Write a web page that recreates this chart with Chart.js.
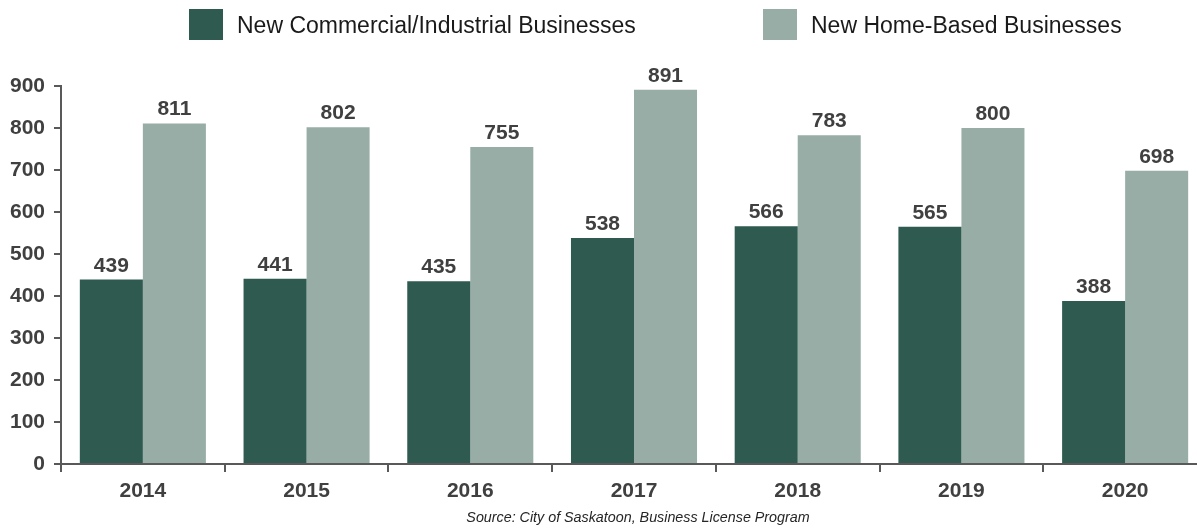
<!DOCTYPE html>
<html>
<head>
<meta charset="utf-8">
<script src="https://cdn.jsdelivr.net/npm/chart.js@4/dist/chart.umd.min.js"></script>
<style>
  html, body { margin: 0; padding: 0; overflow: hidden; background: #ffffff; }
  #wrap { width: 1207px; height: 531px; }
</style>
</head>
<body>
<div id="wrap"><canvas id="c" width="1207" height="531"></canvas></div>
<script>
const categories = ["2014", "2015", "2016", "2017", "2018", "2019", "2020"];
const commercialValues = [439, 441, 435, 538, 566, 565, 388];
const homeBasedValues = [811, 802, 755, 891, 783, 800, 698];
const seriesLabels = ["New Commercial/Industrial Businesses", "New Home-Based Businesses"];
const seriesColors = ["#2e5a50", "#97ada6"];
const sourceText = "Source: City of Saskatoon, Business License Program";

const FONT = "'Liberation Sans', Arial, Helvetica, sans-serif";

const valueLabels = {
  id: 'valueLabels',
  afterDatasetsDraw(chart) {
    const ctx = chart.ctx;
    ctx.save();
    ctx.font = "bold 21px " + FONT;
    ctx.fillStyle = "#404040";
    ctx.textAlign = "center";
    ctx.textBaseline = "alphabetic";
    chart.data.datasets.forEach((ds, di) => {
      const meta = chart.getDatasetMeta(di);
      meta.data.forEach((el, i) => {
        ctx.fillText(String(ds.data[i]), el.x, el.y - 8);
      });
    });
    ctx.restore();
  }
};

const customLegend = {
  id: 'customLegend',
  afterDraw(chart) {
    const ctx = chart.ctx;
    const xs = [189, 763];
    ctx.save();
    ctx.font = "23px " + FONT;
    ctx.textBaseline = "middle";
    ctx.textAlign = "left";
    chart.data.datasets.forEach((ds, i) => {
      ctx.fillStyle = ds.backgroundColor;
      ctx.fillRect(xs[i], 9, 34, 31);
      ctx.fillStyle = "#1a1a1a";
      ctx.fillText(ds.label, xs[i] + 48, 27);
    });
    ctx.font = "italic 14.3px " + FONT;
    ctx.fillStyle = "#262626";
    ctx.textAlign = "center";
    ctx.fillText(sourceText, 638, 518);
    ctx.restore();
  }
};

new Chart(document.getElementById('c'), {
  type: 'bar',
  data: {
    labels: categories,
    datasets: [
      { label: seriesLabels[0], data: commercialValues, backgroundColor: seriesColors[0], borderWidth: 0 },
      { label: seriesLabels[1], data: homeBasedValues, backgroundColor: seriesColors[1], borderWidth: 0 }
    ]
  },
  options: {
    responsive: false,
    animation: false,
    layout: { padding: { top: 86, right: 0, bottom: 0, left: 0 } },
    datasets: { bar: { categoryPercentage: 0.77, barPercentage: 1.0 } },
    plugins: {
      legend: { display: false },
      tooltip: { enabled: false },
      title: { display: false }
    },
    scales: {
      x: {
        grid: {
          offset: true,
          drawOnChartArea: false,
          drawTicks: true,
          tickLength: 8,
          color: "#595959",
          lineWidth: 2
        },
        border: { display: true, color: "#595959", width: 2 },
        ticks: {
          font: { family: FONT, size: 21, weight: 'bold' },
          color: "#404040",
          padding: 7,
          maxRotation: 0
        },
        afterFit(scale) { scale.height = 67; }
      },
      y: {
        min: 0,
        max: 900,
        grid: {
          drawOnChartArea: false,
          drawTicks: true,
          tickLength: 7,
          color: "#595959",
          lineWidth: 2
        },
        border: { display: true, color: "#595959", width: 2 },
        ticks: {
          stepSize: 100,
          font: { family: FONT, size: 21, weight: 'bold' },
          color: "#404040",
          padding: 9
        },
        afterFit(scale) { scale.width = 61; }
      }
    }
  },
  plugins: [valueLabels, customLegend]
});
</script>
</body>
</html>
